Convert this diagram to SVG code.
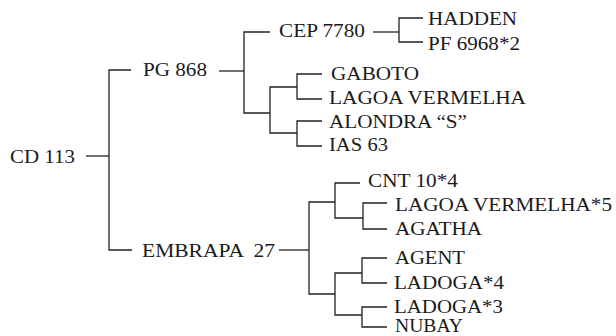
<svg xmlns="http://www.w3.org/2000/svg" width="616" height="336" viewBox="0 0 616 336">
<style>
.t{font-family:"Liberation Serif","Times New Roman",serif;font-size:18.5px;fill:#1a1a1a}
.c{fill:none;stroke:#222;stroke-width:1.3}
</style>
<rect width="616" height="336" fill="#fff"/>
<g id="connectors">
<path class="c" d="M86 156H109"/>
<path class="c" d="M131 70H109V250H132"/>
<path class="c" d="M219 71H244"/>
<path class="c" d="M270 32H244V113H270"/>
<path class="c" d="M297 87H270V133H297"/>
<path class="c" d="M322 74H297V99H322"/>
<path class="c" d="M322 121H297V146H322"/>
<path class="c" d="M373 32H399"/>
<path class="c" d="M423 18H399V42H423"/>
<path class="c" d="M279 250H309"/>
<path class="c" d="M335 202H309V294H335"/>
<path class="c" d="M360 183H335V218H363"/>
<path class="c" d="M387 203H363V229H387"/>
<path class="c" d="M362 273H335V315H362"/>
<path class="c" d="M387 258H362V283H387"/>
<path class="c" d="M387 307H362V327H387"/>
</g>
<g id="cd113"><text class="t" x="10" y="163" textLength="65" lengthAdjust="spacingAndGlyphs">CD 113</text></g>
<g id="pg868"><text class="t" x="143" y="76" textLength="64" lengthAdjust="spacingAndGlyphs">PG 868</text></g>
<g id="cep7780"><text class="t" x="279" y="37" textLength="86" lengthAdjust="spacingAndGlyphs">CEP 7780</text></g>
<g id="hadden"><text class="t" x="428" y="25" textLength="89" lengthAdjust="spacingAndGlyphs">HADDEN</text></g>
<g id="pf6968"><text class="t" x="428" y="50" textLength="92" lengthAdjust="spacingAndGlyphs">PF 6968*2</text></g>
<g id="gaboto"><text class="t" x="331" y="80" textLength="88" lengthAdjust="spacingAndGlyphs">GABOTO</text></g>
<g id="lagoa"><text class="t" x="329" y="104" textLength="197" lengthAdjust="spacingAndGlyphs">LAGOA VERMELHA</text></g>
<g id="alondra"><text class="t" x="329" y="128" textLength="138" lengthAdjust="spacingAndGlyphs">ALONDRA “S”</text></g>
<g id="ias63"><text class="t" x="329" y="151" textLength="59" lengthAdjust="spacingAndGlyphs">IAS 63</text></g>
<g id="embrapa27"><text class="t" x="142" y="257" textLength="133" lengthAdjust="spacingAndGlyphs" xml:space="preserve">EMBRAPA  27</text></g>
<g id="cnt104"><text class="t" x="368" y="187" textLength="90" lengthAdjust="spacingAndGlyphs">CNT 10*4</text></g>
<g id="lagoa5"><text class="t" x="395" y="211" textLength="217" lengthAdjust="spacingAndGlyphs">LAGOA VERMELHA*5</text></g>
<g id="agatha"><text class="t" x="395" y="235" textLength="87" lengthAdjust="spacingAndGlyphs">AGATHA</text></g>
<g id="agent"><text class="t" x="395" y="264" textLength="70" lengthAdjust="spacingAndGlyphs">AGENT</text></g>
<g id="ladoga4"><text class="t" x="394" y="289" textLength="110" lengthAdjust="spacingAndGlyphs">LADOGA*4</text></g>
<g id="ladoga3"><text class="t" x="394" y="313" textLength="109" lengthAdjust="spacingAndGlyphs">LADOGA*3</text></g>
<g id="nubay"><text class="t" x="395" y="332" textLength="68" lengthAdjust="spacingAndGlyphs">NUBAY</text></g>
</svg>
